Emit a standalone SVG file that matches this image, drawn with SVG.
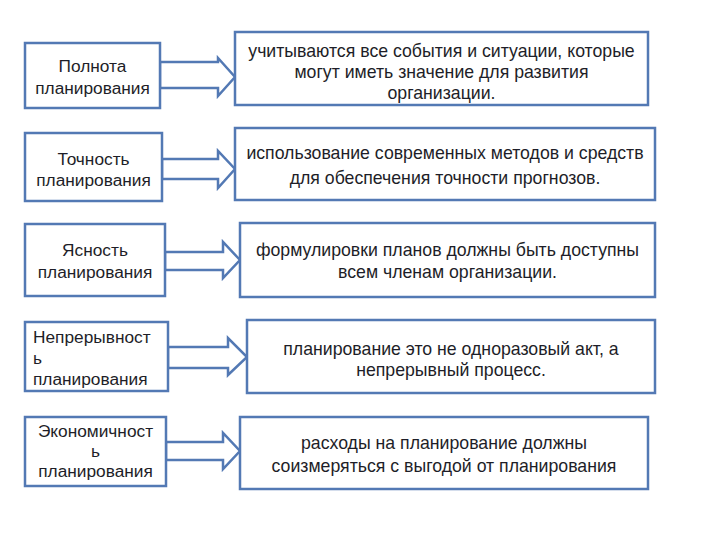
<svg xmlns="http://www.w3.org/2000/svg" width="720" height="540" viewBox="0 0 720 540">
<style>
.box{fill:#fff;stroke:#5379b4;stroke-width:2.5}
.arr{fill:#fff;stroke:#5379b4;stroke-width:2.5;stroke-linejoin:miter}
text{font-family:"Liberation Sans",Arial,sans-serif;font-size:17.3px;fill:#1e1e28}
.c{text-anchor:middle}
.r{font-size:17.7px}
</style>
<rect width="720" height="540" fill="#fff"/>
<g id="connectors">
<polygon class="arr" points="160,62 218,62 218,58 235,77 218,96 218,88 160,88"/>
<polygon class="arr" points="162,159 218,159 218,151 235,169 218,188 218,179 162,179"/>
<polygon class="arr" points="165,252 223,252 223,242 240,260 223,278 223,270 165,270"/>
<polygon class="arr" points="168,347 228,347 228,338 247,357 228,375 228,368 168,368"/>
<polygon class="arr" points="166,442 223,442 223,433 240,451 223,469 223,460 166,460"/>
</g>
<g id="n1">
<rect class="box" x="25" y="43" width="135" height="65"/>
<text class="c" x="92.5" y="72">Полнота</text>
<text class="c" x="92.5" y="94">планирования</text>
</g>
<g id="r1">
<rect class="box" x="235" y="32" width="413" height="73"/>
<text class="c r" x="441.5" y="57">учитываются все события и ситуации, которые</text>
<text class="c r" x="441.5" y="78">могут иметь значение для развития</text>
<text class="c r" x="441.5" y="99">организации.</text>
</g>
<g id="n2">
<rect class="box" x="25" y="133" width="137" height="68"/>
<text class="c" x="93.5" y="165">Точность</text>
<text class="c" x="93.5" y="186">планирования</text>
</g>
<g id="r2">
<rect class="box" x="235" y="128" width="420" height="72"/>
<text class="c r" x="445" y="159">использование современных методов и средств</text>
<text class="c r" x="445" y="184">для обеспечения точности прогнозов.</text>
</g>
<g id="n3">
<rect class="box" x="25" y="224" width="140" height="72"/>
<text class="c" x="95" y="256">Ясность</text>
<text class="c" x="95" y="278">планирования</text>
</g>
<g id="r3">
<rect class="box" x="240" y="223" width="415" height="74"/>
<text class="c r" x="447.5" y="256">формулировки планов должны быть доступны</text>
<text class="c r" x="447.5" y="278">всем членам организации.</text>
</g>
<g id="n4">
<rect class="box" x="25" y="322" width="143" height="69"/>
<text x="33" y="343">Непрерывност</text>
<text x="33" y="364">ь</text>
<text x="33" y="385">планирования</text>
</g>
<g id="r4">
<rect class="box" x="247" y="320" width="408" height="73"/>
<text class="c r" x="451" y="355">планирование это не одноразовый акт, а</text>
<text class="c r" x="451" y="376">непрерывный процесс.</text>
</g>
<g id="n5">
<rect class="box" x="25" y="417" width="141" height="69"/>
<text class="c" x="95.5" y="437">Экономичност</text>
<text class="c" x="95.5" y="457">ь</text>
<text class="c" x="95.5" y="477">планирования</text>
</g>
<g id="r5">
<rect class="box" x="240" y="417" width="408" height="72"/>
<text class="c r" x="444" y="449">расходы на планирование должны</text>
<text class="c r" x="444" y="472">соизмеряться с выгодой от планирования</text>
</g>
</svg>
